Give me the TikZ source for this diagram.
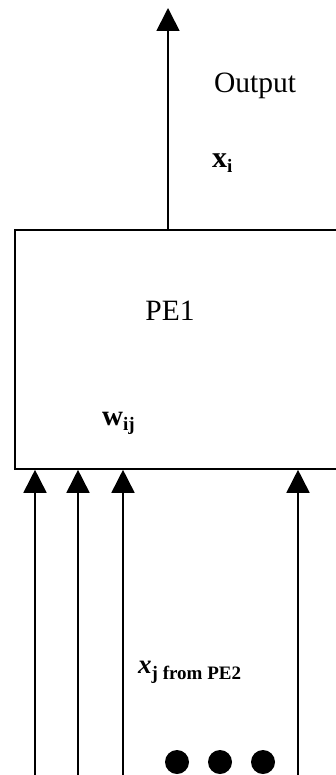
\documentclass[tikz,border=0pt]{standalone}
\usepackage{fontspec}
\setmainfont{Liberation Serif}
\usepackage{tikz}
\usetikzlibrary{
    positioning, % relative placement
    arrows.meta % arrow tips
}
\newcommand{\lowidx}[2]{\raisebox{-#1}{\fontsize{19}{19}\selectfont\textbf{#2}}}

\begin{document}
\begin{tikzpicture}[
    x=1pt, y=-1pt,
    arrow/.style={
        -{Triangle[length=23pt,width=23pt]},
        line width=1.7pt,
        draw=black
    },
    pebox/.style={
        draw=black,
        line width=1.8pt,
        minimum width=336pt,
        minimum height=239pt,
        inner sep=0pt
    },
    lbl/.style={
        inner sep=0pt,
        font=\fontsize{29.5}{29.5}\selectfont
    },
    dot/.style={
        circle,
        fill=black,
        minimum size=24pt,
        inner sep=0pt
    }
]
\useasboundingbox (0,0) rectangle (336,775);
\clip (0,0) rectangle (336,775);

% Processing element
\node[pebox, anchor=north west] (pe1) at (14,229) {};
\node[lbl] (pename) at (170,311) {PE1};
\node[lbl, anchor=base west] (weight) at (102,425)
{\fontsize{29}{29}\selectfont\textbf{w}\lowidx{5pt}{ij}};

% Output
\coordinate (outtip) at (168,8);
\draw[arrow] (pe1.north west -| outtip) -- (outtip);
\node[lbl] (outname) at (255,86) {Output};
\node[lbl, anchor=base west] (xout) at (212,168)
{\fontsize{30}{30}\selectfont\textbf{x}\lowidx{5pt}{i}};

% Inputs
\foreach \x/\n in {35/a, 78/b, 123/c, 298/d}{
    \coordinate (in\n) at (\x,780);
    \draw[arrow] (in\n) -- (in\n |- pe1.south);
}
\node[lbl, anchor=base west] (xin) at (138,673)
{\fontsize{27}{27}\selectfont\textbf{\textit{x}}\lowidx{6pt}{j from PE2}};

% More inputs
\foreach \x [count=\i] in {177, 220, 263}
    \node[dot] (dot\i) at (\x,762) {};

\end{tikzpicture}
\end{document}
